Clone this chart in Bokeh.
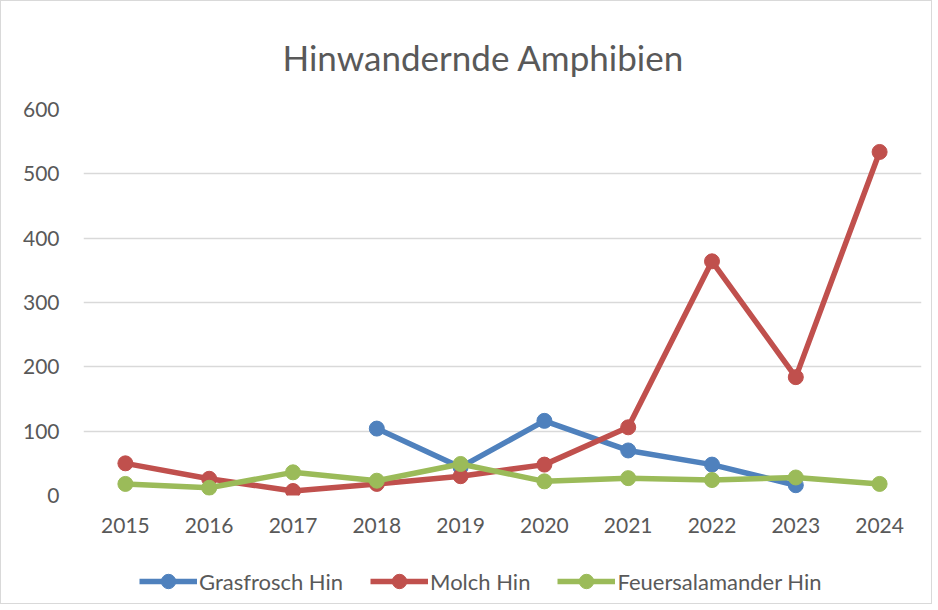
from bokeh.plotting import figure
from bokeh.models import Legend, LegendItem, Title, FixedTicker, Range1d, FactorRange
from bokeh.layouts import column
from bokeh.embed import file_html
from bokeh.resources import INLINE
import numpy as np

years = ["2015", "2016", "2017", "2018", "2019", "2020", "2021", "2022", "2023", "2024"]
grasfrosch = [np.nan, np.nan, np.nan, 104, 44, 116, 70, 48, 16, np.nan]
molch = [50, 26, 7, 18, 30, 48, 106, 364, 184, 534]
feuersalamander = [18, 12, 36, 23, 49, 22, 27, 24, 28, 18]
series_names = ["Grasfrosch Hin", "Molch Hin", "Feuersalamander Hin"]
colors = ["#4F81BD", "#C0504D", "#9BBB59"]
y_ticks = [0, 100, 200, 300, 400, 500, 600]

FONT = "Lato"
TXT = "#595959"
series = [grasfrosch, molch, feuersalamander]

p = figure(width=930, height=540, x_range=years, y_range=(0, 600),
           output_backend="svg", toolbar_location=None,
           min_border_left=82, min_border_right=10, min_border_top=108, min_border_bottom=46)
p.x_range.range_padding = 0
p.outline_line_color = None

title = Title(text="Hinwandernde Amphibien", align="left", offset=199, text_font=FONT,
              text_font_size="35px", text_font_style="normal", text_color=TXT,
              standoff=64)
p.add_layout(title, "above")

p.xgrid.grid_line_color = None
p.ygrid.grid_line_color = "#D9D9D9"
p.ygrid.grid_line_width = 1.5
p.yaxis.ticker = FixedTicker(ticks=y_ticks)
for ax in (p.xaxis[0], p.yaxis[0]):
    ax.axis_line_color = None
    ax.major_tick_line_color = None
    ax.minor_tick_line_color = None
    ax.major_label_text_font = FONT
    ax.major_label_text_font_size = "21px"
    ax.major_label_text_color = TXT
p.xaxis.major_label_standoff = 16
p.yaxis.major_label_standoff = 18

for name, vals, c in zip(series_names, series, colors):
    p.line(years, vals, line_color=c, line_width=5.5)
    p.scatter(years, vals, size=15, fill_color=c, line_color=c)

# legend strip below the chart (series drawn out of view; only the legend shows)
lg = figure(width=930, height=62, x_range=FactorRange(*years), y_range=Range1d(1000, 1001),
            output_backend="svg", toolbar_location=None,
            min_border_left=0, min_border_right=0, min_border_top=0, min_border_bottom=0,
            x_axis_type=None, y_axis_type=None)
lg.outline_line_color = None
lg.xgrid.visible = False
lg.ygrid.visible = False
items = []
for name, vals, c in zip(series_names, series, colors):
    r1 = lg.line(years, vals, line_color=c, line_width=5.5)
    r2 = lg.scatter(years, vals, size=15, fill_color=c, line_color=c)
    items.append(LegendItem(label=name, renderers=[r1, r2]))
legend = Legend(items=items, orientation="horizontal", location=(56, 4),
                label_text_font=FONT, label_text_font_size="22px", label_text_color=TXT,
                glyph_width=58, glyph_height=36, label_standoff=2, spacing=27,
                border_line_color=None, background_fill_alpha=0, padding=0, margin=0)
lg.add_layout(legend, "center")

layout = column(p, lg, spacing=0)
layout.styles = {"border": "1px solid #D9D9D9"}

open("out.html", "w").write(file_html(layout, INLINE))
